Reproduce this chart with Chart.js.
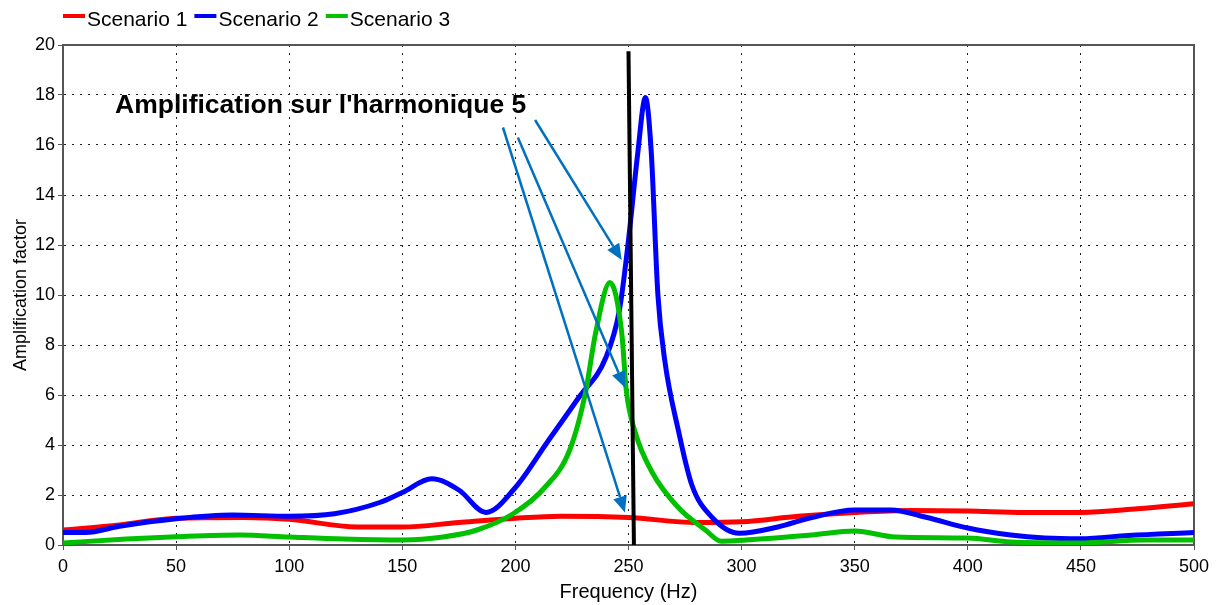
<!DOCTYPE html>
<html>
<head>
<meta charset="utf-8">
<script src="https://cdn.jsdelivr.net/npm/chart.js@4"></script>
<style>
    body { margin: 0; background: #fff; }
    #wrap { width: 1220px; height: 605px; position: relative; }
</style>
</head>
<body>
<div id="wrap"><canvas id="chart"></canvas></div>
<script>
// frequency response of the three scenarios
const seriesNames = ['Scenario 1', 'Scenario 2', 'Scenario 3']
const seriesColors = ['#ff0000', '#0000ff', '#00c000']

const freqS1 = [0, 25, 50, 80, 100, 130, 150, 175, 200, 220, 250, 280, 300, 325, 350, 375, 400, 425, 450, 475, 500]
const ampS1 = [0.6, 0.8, 1.07, 1.1, 1.03, 0.72, 0.72, 0.9, 1.07, 1.15, 1.1, 0.9, 0.93, 1.15, 1.3, 1.38, 1.36, 1.3, 1.3, 1.45, 1.65]

const freqS2 = [0, 10, 25, 50, 75, 100, 120, 140, 150, 163, 175, 187, 200, 214, 228, 240, 246, 250, 254, 257.5, 260, 263, 266, 272, 278, 287, 299, 316, 331, 350, 366, 382, 400, 419, 434, 450, 471, 500]
const ampS2 = [0.5, 0.5, 0.75, 1.05, 1.2, 1.15, 1.25, 1.7, 2.1, 2.65, 2.2, 1.3, 2.3, 4.1, 5.9, 7.5, 9.4, 12.2, 15.6, 17.9, 15.8, 10, 7.4, 4.6, 2.4, 1.1, 0.47, 0.72, 1.1, 1.4, 1.4, 1.1, 0.68, 0.4, 0.28, 0.25, 0.38, 0.5]

const freqS3 = [0, 28, 50, 78, 100, 124, 150, 168, 183, 199, 213, 224, 231, 235.5, 241.8, 247, 249, 253, 260.5, 272, 284, 291, 302, 331, 350, 368, 400, 419, 449, 478, 500]
const ampS3 = [0.08, 0.24, 0.33, 0.4, 0.32, 0.24, 0.2, 0.32, 0.6, 1.25, 2.3, 3.8, 6.1, 8.5, 10.5, 8.5, 6.2, 4.5, 2.9, 1.5, 0.6, 0.15, 0.2, 0.4, 0.56, 0.32, 0.28, 0.12, 0.08, 0.2, 0.2]

// 5th harmonic marker (250 Hz)
const harmonicFreq = [250, 252.4]
const harmonicAmp = [19.75, 0]

// note text and arrows, in data units
const noteText = "Amplification sur l'harmonique 5"
const notePos = [23, 17.3]
const arrowFrom = [[208.7, 17.0], [201.1, 16.3], [194.5, 16.7]]
const arrowTo = [[247.0, 11.4], [248.4, 6.3], [248.4, 1.3]]

const xTicks = [0, 50, 100, 150, 200, 250, 300, 350, 400, 450, 500]
const yTicks = [0, 2, 4, 6, 8, 10, 12, 14, 16, 18, 20]

const FONT = 'Liberation Sans, Arial, sans-serif'
const toPoints = (xs, ys) => xs.map((x, i) => ({ x: x, y: ys[i] }))

const curve = (i, xs, ys) => ({
    label: seriesNames[i],
    data: toPoints(xs, ys),
    borderColor: seriesColors[i],
    borderWidth: 5,
    pointRadius: 0,
    cubicInterpolationMode: 'monotone',
    order: 4 - i
})

const frame = {
    id: 'frame',
    beforeDatasetsDraw(chart) {
        const a = chart.chartArea
        const ctx = chart.ctx
        ctx.save()
        ctx.strokeStyle = '#555'
        ctx.lineWidth = 2
        ctx.beginPath()
        ctx.moveTo(a.left, a.top)
        ctx.lineTo(a.right, a.top)
        ctx.lineTo(a.right, a.bottom)
        ctx.stroke()
        ctx.restore()
    }
}

const note = {
    id: 'note',
    beforeDraw(chart) {
        const { x, y } = chart.scales
        const ctx = chart.ctx
        ctx.save()
        ctx.fillStyle = '#000'
        ctx.font = 'bold 26.5px ' + FONT
        ctx.textBaseline = 'alphabetic'
        ctx.fillText(noteText, x.getPixelForValue(notePos[0]), y.getPixelForValue(notePos[1]))
        ctx.restore()
    },
    afterDatasetsDraw(chart) {
        const { x, y } = chart.scales
        const ctx = chart.ctx
        ctx.save()
        ctx.strokeStyle = '#0070c0'
        ctx.fillStyle = '#0070c0'
        ctx.lineWidth = 2.5
        arrowFrom.forEach((p, i) => {
            const x1 = x.getPixelForValue(p[0]), y1 = y.getPixelForValue(p[1])
            const x2 = x.getPixelForValue(arrowTo[i][0]), y2 = y.getPixelForValue(arrowTo[i][1])
            const ang = Math.atan2(y2 - y1, x2 - x1)
            const head = 16, half = 7
            const bx = x2 - head * Math.cos(ang), by = y2 - head * Math.sin(ang)
            ctx.beginPath()
            ctx.moveTo(x1, y1)
            ctx.lineTo(bx, by)
            ctx.stroke()
            ctx.beginPath()
            ctx.moveTo(x2, y2)
            ctx.lineTo(bx + half * Math.sin(ang), by - half * Math.cos(ang))
            ctx.lineTo(bx - half * Math.sin(ang), by + half * Math.cos(ang))
            ctx.closePath()
            ctx.fill()
        })
        ctx.restore()
    }
}

// compact legend: short thick line then name, packed tight on the left
const lineLegend = {
    id: 'lineLegend',
    afterDraw(chart) {
        const ctx = chart.ctx
        ctx.save()
        ctx.font = '21px ' + FONT
        ctx.textBaseline = 'middle'
        let px = 63
        seriesNames.forEach((name, i) => {
            ctx.fillStyle = seriesColors[i]
            ctx.fillRect(px, 14, 22, 4)
            px += 24
            ctx.fillStyle = '#000'
            ctx.fillText(name, px, 20)
            px += ctx.measureText(name).width + 7
        })
        ctx.restore()
    }
}

const gridStyle = {
    color: '#222',
    lineWidth: 1,
    tickColor: '#555',
    tickLength: 5,
    tickWidth: 1,
    tickBorderDash: []
}

new Chart(document.getElementById('chart'), {
    type: 'scatter',
    data: {
        datasets: [
            curve(0, freqS1, ampS1),
            curve(1, freqS2, ampS2),
            curve(2, freqS3, ampS3),
            {
                label: 'H5',
                data: toPoints(harmonicFreq, harmonicAmp),
                borderColor: '#000',
                borderWidth: 4,
                pointRadius: 0,
                order: 0
            }
        ]
    },
    options: {
        responsive: true,
        maintainAspectRatio: false,
        animation: false,
        showLine: true,
        layout: { padding: { left: 0, right: 26, top: 45, bottom: 0 } },
        plugins: {
            legend: { display: false },
            tooltip: { enabled: false }
        },
        scales: {
            x: {
                type: 'linear',
                min: 0,
                max: 500,
                afterBuildTicks: (s) => { s.ticks = xTicks.map(v => ({ value: v })) },
                afterFit: (s) => { s.height = 60 },
                ticks: { color: '#000', font: { family: FONT, size: 18 }, padding: 6, maxRotation: 0 },
                grid: gridStyle,
                border: { color: '#555', width: 2, dash: [2, 6] },
                title: {
                    display: true,
                    text: 'Frequency (Hz)',
                    color: '#000',
                    font: { family: FONT, size: 20 },
                    padding: { bottom: 1 }
                }
            },
            y: {
                min: 0,
                max: 20,
                afterBuildTicks: (s) => { s.ticks = yTicks.map(v => ({ value: v })) },
                afterFit: (s) => { s.width = 63 },
                ticks: { color: '#000', font: { family: FONT, size: 18 }, padding: 3 },
                grid: gridStyle,
                border: { color: '#555', width: 2, dash: [2, 6] },
                title: {
                    display: true,
                    text: 'Amplification factor',
                    color: '#000',
                    font: { family: FONT, size: 18 },
                    padding: { top: 10 }
                }
            }
        }
    },
    plugins: [frame, note, lineLegend]
})
</script>
</body>
</html>
